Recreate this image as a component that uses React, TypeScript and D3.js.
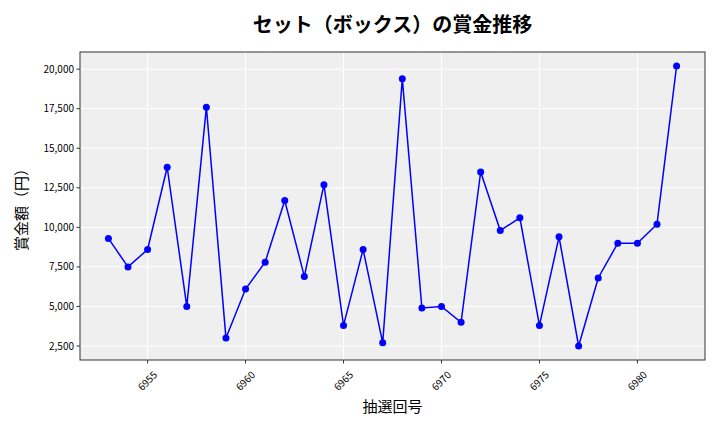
import React from "react";
import * as d3 from "d3";

const draws: number[] = d3.range(6953, 6983);
const prizes: number[] = [
  9300, 7500, 8600, 13800, 5000, 17600, 3000, 6100, 7800, 11700,
  6900, 12700, 3800, 8600, 2700, 19400, 4900, 5000, 4000, 13500,
  9800, 10600, 3800, 9400, 2500, 6800, 9000, 9000, 10200, 20200,
];
const yTicks: number[] = [2500, 5000, 7500, 10000, 12500, 15000, 17500, 20000];
const xTicks: number[] = [6955, 6960, 6965, 6970, 6975, 6980];

const W = 720;
const H = 432;
const M = { left: 80, right: 15, top: 52, bottom: 72 };
const FONT = "'Noto Sans CJK JP', 'Noto Sans', sans-serif";

export default function App() {
  const x0 = d3.min(draws)!;
  const x1 = d3.max(draws)!;
  const xPad = (x1 - x0) * 0.05;
  const yMin = d3.min(prizes)!;
  const yMax = d3.max(prizes)!;
  const yPad = (yMax - yMin) * 0.05;
  const x = d3.scaleLinear().domain([x0 - xPad, x1 + xPad]).range([M.left, W - M.right]);
  const y = d3.scaleLinear().domain([yMin - yPad, yMax + yPad]).range([H - M.bottom, M.top]);
  const line = d3
    .line<number>()
    .x((_, i) => x(draws[i]))
    .y((d) => y(d));
  const fmt = d3.format(",");
  const pl = M.left;
  const pr = W - M.right;
  const pt = M.top;
  const pb = H - M.bottom;

  return (
    <svg
      width={W}
      height={H}
      style={{ position: "absolute", left: 0, top: 0, background: "#fff" }}
      fontFamily={FONT}
    >
      <rect x={pl} y={pt} width={pr - pl} height={pb - pt} fill="#efefef" />
      {yTicks.map((t) => (
        <line key={"gy" + t} x1={pl} x2={pr} y1={y(t)} y2={y(t)} stroke="#fff" strokeWidth={1} />
      ))}
      {xTicks.map((t) => (
        <line key={"gx" + t} x1={x(t)} x2={x(t)} y1={pt} y2={pb} stroke="#fff" strokeWidth={1} />
      ))}
      <path d={line(prizes)!} fill="none" stroke="#0000ff" strokeWidth={1.5} />
      {prizes.map((v, i) => (
        <circle key={i} cx={x(draws[i])} cy={y(v)} r={3.5} fill="#0000ff" />
      ))}
      <rect x={pl} y={pt} width={pr - pl} height={pb - pt} fill="none" stroke="#333" strokeWidth={1} />
      {yTicks.map((t) => (
        <g key={"ty" + t}>
          <line x1={pl - 3.5} x2={pl} y1={y(t)} y2={y(t)} stroke="#333" />
          <text x={pl - 6} y={y(t)} dy="0.35em" textAnchor="end" fontSize={10} fill="#000">
            {fmt(t)}
          </text>
        </g>
      ))}
      {xTicks.map((t) => (
        <g key={"tx" + t}>
          <line x1={x(t)} x2={x(t)} y1={pb} y2={pb + 3.5} stroke="#333" />
          <text
            transform={`translate(${x(t)},${pb + 21}) rotate(-45)`}
            textAnchor="middle"
            dy="0.35em"
            fontSize={10}
            fill="#000"
          >
            {t}
          </text>
        </g>
      ))}
      <text x={(pl + pr) / 2} y={25} textAnchor="middle" dy="0.35em" fontSize={20} fontWeight="bold" fill="#000">
        セット（ボックス）の賞金推移
      </text>
      <text x={(pl + pr) / 2} y={407} textAnchor="middle" dy="0.35em" fontSize={15} fill="#000">
        抽選回号
      </text>
      <text
        transform={`translate(22,${(pt + pb) / 2}) rotate(-90)`}
        textAnchor="middle"
        dy="0.35em"
        fontSize={15}
        fill="#000"
      >
        賞金額（円）
      </text>
    </svg>
  );
}
